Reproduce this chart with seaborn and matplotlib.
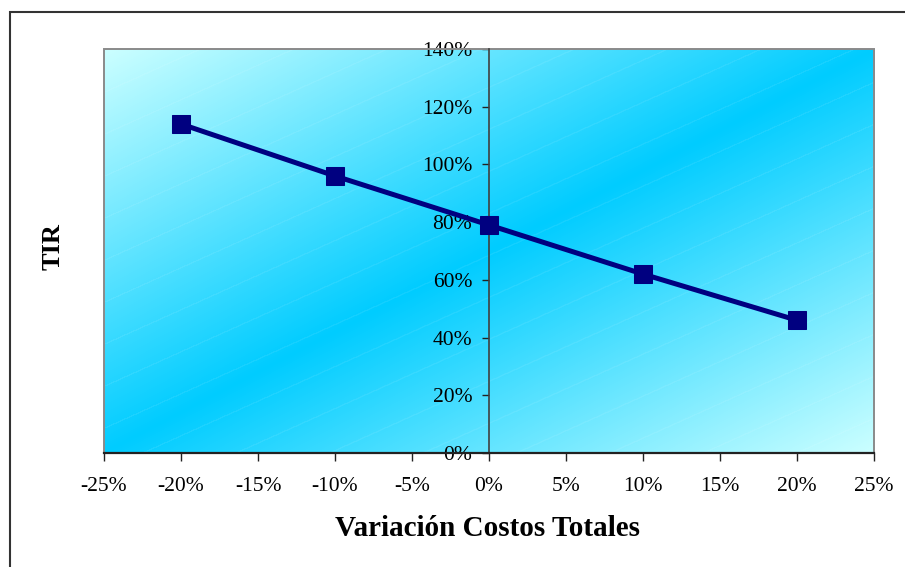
import numpy as np
import pandas as pd
import matplotlib
matplotlib.use("Agg")
import matplotlib.pyplot as plt
from matplotlib.patches import Rectangle
from matplotlib.ticker import PercentFormatter, MultipleLocator
import seaborn as sns

# Sensitivity of the IRR (TIR) to a change in total costs
variacion = [-0.20, -0.10, 0.00, 0.10, 0.20]
tir = [1.14, 0.96, 0.79, 0.62, 0.46]

x_label = "Variación Costos Totales"
y_label = "TIR"

sns.set_theme(style="ticks")
plt.rcParams["font.family"] = ["Liberation Serif", "DejaVu Serif"]
plt.rcParams["axes.unicode_minus"] = False
plt.rcParams["text.color"] = "black"
plt.rcParams["xtick.color"] = "black"
plt.rcParams["ytick.color"] = "black"

W, H = 905, 567
fig = plt.figure(figsize=(W / 100, H / 100), dpi=100)
fig.patch.set_facecolor("white")
ax = fig.add_axes([104 / W, 1 - 453 / H, 770 / W, 404 / H])

# Two-colour diagonal gradient fill with faint light stripes
ph, pw = 404, 770
yy, xx = np.mgrid[0:ph, 0:pw]
t = (xx / (pw - 1) + yy / (ph - 1)) / 2.0
s = 1.0 - np.abs(2.0 * t - 1.0)
light = np.array([204, 255, 255]) / 255.0
dark = np.array([0, 204, 255]) / 255.0
img = light[None, None, :] + (dark - light)[None, None, :] * s[..., None]
stripe = ((yy + 0.45 * xx) % 42.0) < 1.4
img[stripe] = img[stripe] * 0.93 + 0.07
ax.imshow(img, extent=[-0.25, 0.25, 0, 1.4], aspect="auto", origin="upper",
          zorder=0, interpolation="bilinear")

df = pd.DataFrame({"variacion": variacion, "tir": tir})
sns.lineplot(data=df, x="variacion", y="tir", ax=ax, color="#000080",
             linewidth=3.6, marker="s", markersize=13.5,
             markeredgecolor="#000080", zorder=5)

ax.set_xlim(-0.25, 0.25)
ax.set_ylim(0, 1.4)
ax.xaxis.set_major_locator(MultipleLocator(0.05))
ax.yaxis.set_major_locator(MultipleLocator(0.2))
ax.xaxis.set_major_formatter(PercentFormatter(xmax=1, decimals=0))
ax.yaxis.set_major_formatter(PercentFormatter(xmax=1, decimals=0))
ax.set_xlabel("")
ax.set_ylabel("")

# Value axis crosses the category axis at 0%
ax.spines["left"].set_position(("data", 0))
ax.spines["left"].set_color("#404040")
ax.spines["left"].set_linewidth(1.2)
ax.spines["left"].set_zorder(3)
ax.spines["top"].set_visible(False)
ax.spines["right"].set_visible(False)
ax.spines["bottom"].set_color("#222222")
ax.spines["bottom"].set_linewidth(1.6)
ax.spines["bottom"].set_zorder(4)

ax.add_patch(Rectangle((0, 0), 1, 1, transform=ax.transAxes, fill=False,
                       edgecolor="#8a8a8a", linewidth=1.4, zorder=2,
                       clip_on=False))

ax.tick_params(axis="x", direction="out", length=6, width=1, color="#222222",
               labelsize=15.5, pad=11, labelcolor="black")
ax.tick_params(axis="y", direction="out", length=5, width=1, color="#222222",
               labelsize=15.5, pad=7, labelcolor="black")
for lab in ax.get_yticklabels():
    lab.set_zorder(6)

fig.text(487 / W, 1 - 528 / H, x_label, ha="center", va="center",
         fontsize=21, fontweight="bold", color="black")
fig.text(53 / W, 1 - 247 / H, y_label, ha="center", va="center",
         rotation=90, fontsize=19, fontweight="bold", color="black")

# Chart frame, running off the right and bottom edges
fig.add_artist(Rectangle((10 / W, -0.2), 1.3, 1.2 - 12 / H,
                         transform=fig.transFigure, fill=False,
                         edgecolor="#333333", linewidth=1.5))

fig.savefig("out.png", dpi=100)
